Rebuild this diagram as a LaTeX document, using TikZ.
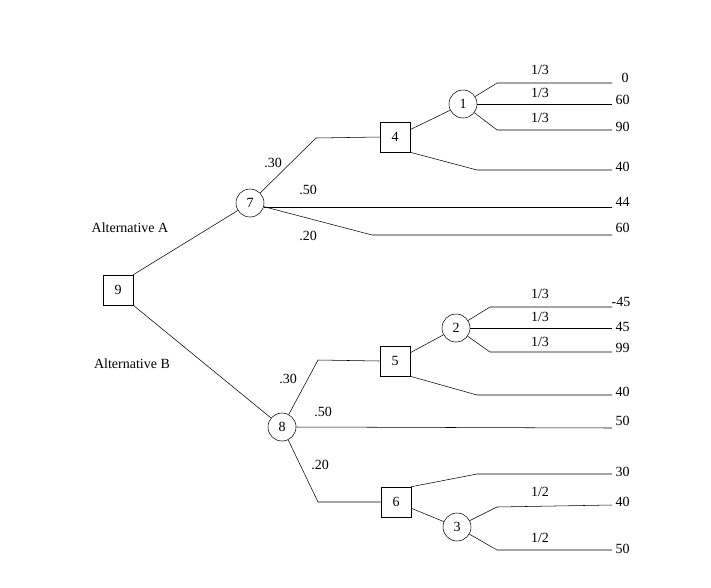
\documentclass[tikz,border=0pt]{standalone}
\usepackage{fontspec}
\setmainfont{Liberation Serif}
\begin{document}
\begin{tikzpicture}[x=0.75pt,y=-0.75pt,font=\fontsize{10.5}{12}\selectfont,
  dec/.style={draw,minimum size=22.5pt,inner sep=0pt},
  chn/.style={draw,circle,minimum size=21pt,inner sep=0pt},
  lbl/.style={inner sep=1pt},
  val/.style={anchor=west,inner sep=1pt}]
\useasboundingbox (0,0) rectangle (711,587);
\node[dec] (n9) at (118,290) {9};
\node[chn] (n7) at (250,203) {7};
\node[chn] (n8) at (282,427) {8};
\node[dec] (n4) at (395,137) {4};
\node[chn] (n1) at (463,104) {1};
\node[dec] (n5) at (395,361) {5};
\node[chn] (n2) at (456,328) {2};
\node[dec] (n6) at (396,502) {6};
\node[chn] (n3) at (457,527) {3};
\foreach \n/\y in {a/83,b/104,c/130,d/170,e/207,f/235,g/307,h/328,i/352,j/395,k/428,l/474,m/505,o/550}
  \coordinate (e\n) at (612,\y);
\draw (n9.north east) -- (n7);
\draw (n9.south east) -- (n8);
\draw (n7) -- (316,138) -- (n4.west);
\draw (n7.east |- ee) -- (ee);
\draw (n7) -- (372,235) -- (ef);
\draw (n4) -- (n1);
\draw (n4.south east) -- (477,170) -- (ed);
\draw (n1) -- (497,83) -- (ea);
\draw (n1.east) -- (eb);
\draw (n1) -- (497,130) -- (ec);
\draw (n8) -- (318,360) -- (n5.west);
\draw (n8.east) -- (ek);
\draw (n8) -- (318,502) -- (n6.west);
\draw (n5) -- (n2);
\draw (n5.south east) -- (477,395) -- (ej);
\draw (n2) -- (490,307) -- (eg);
\draw (n2.east) -- (eh);
\draw (n2) -- (490,352) -- (ei);
\draw (n6.north east) -- (477,474) -- (el);
\draw (n6) -- (n3);
\draw (n3) -- (497,507) -- (em);
\draw (n3) -- (497,550) -- (eo);
\node[lbl] (p1) at (273,163) {.30};
\node[lbl] (p2) at (308,190) {.50};
\node[lbl] (p3) at (308,236) {.20};
\node[lbl] (p4) at (288,379) {.30};
\node[lbl] (p5) at (323,412) {.50};
\node[lbl] (p6) at (320,465) {.20};
\node[lbl] (q1) at (540,70) {1/3};
\node[lbl] (q2) at (540,93) {1/3};
\node[lbl] (q3) at (540,118) {1/3};
\node[lbl] (q4) at (540,294) {1/3};
\node[lbl] (q5) at (540,317) {1/3};
\node[lbl] (q6) at (540,342) {1/3};
\node[lbl] (q7) at (540,492) {1/2};
\node[lbl] (q8) at (540,538) {1/2};
\node[val] (v1) at (620,78) {0};
\node[val] (v2) at (614,100) {60};
\node[val] (v3) at (614,127) {90};
\node[val] (v4) at (614,167) {40};
\node[val] (v5) at (614,202) {44};
\node[val] (v6) at (614,228) {60};
\node[val] (v7) at (610,302) {-45};
\node[val] (v8) at (614,327) {45};
\node[val] (v9) at (614,348) {99};
\node[val] (v10) at (614,392) {40};
\node[val] (v11) at (614,421) {50};
\node[val] (v12) at (614,472) {30};
\node[val] (v13) at (614,502) {40};
\node[val] (v14) at (614,549) {50};
\node[lbl] (altA) at (130,228) {Alternative A};
\node[lbl] (altB) at (132,364) {Alternative B};
\end{tikzpicture}
\end{document}
